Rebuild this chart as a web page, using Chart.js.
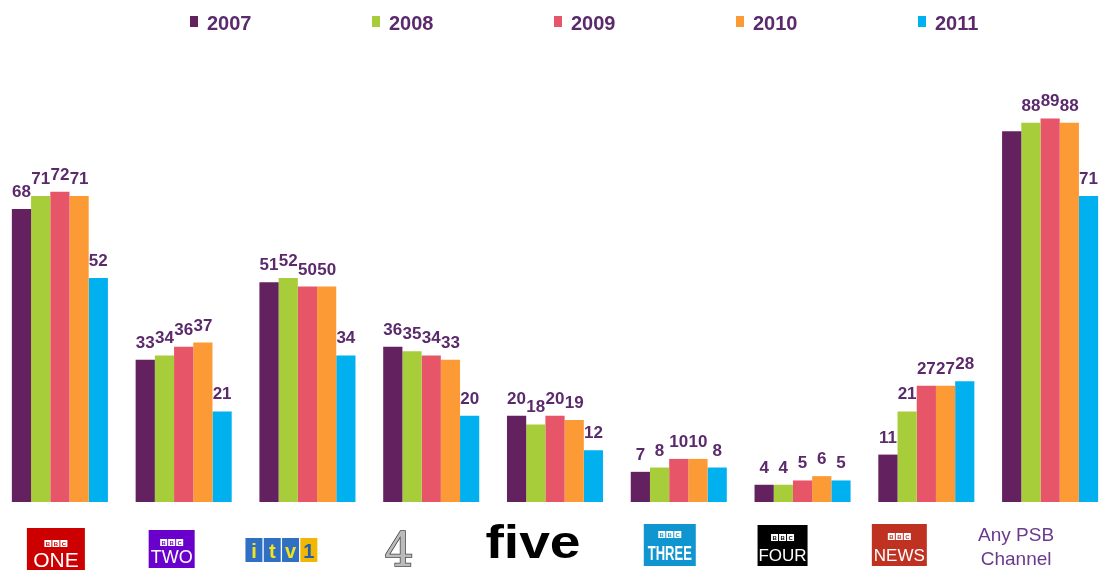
<!DOCTYPE html>
<html>
<head>
<meta charset="utf-8">
<script src="https://cdn.jsdelivr.net/npm/chart.js@4.4.0/dist/chart.umd.min.js"></script>
<style>
    html, body { margin: 0; padding: 0; background: #fff; overflow: hidden; }
    #wrap { position: absolute; left: -2px; top: 0; width: 1114px; height: 570px; }
</style>
</head>
<body>
<div id="wrap"><canvas id="myChart"></canvas></div>
<script>
// dados
const canais = ['BBC ONE', 'BBC TWO', 'ITV1', 'Channel 4', 'five', 'BBC THREE', 'BBC FOUR', 'BBC NEWS', 'Any PSB Channel'];
const anos = ['2007', '2008', '2009', '2010', '2011'];
const v2007 = [68, 33, 51, 36, 20, 7, 4, 11, 86];
const v2008 = [71, 34, 52, 35, 18, 8, 4, 21, 88];
const v2009 = [72, 36, 50, 34, 20, 10, 5, 27, 89];
const v2010 = [71, 37, 50, 33, 19, 10, 6, 27, 88];
const v2011 = [52, 21, 34, 20, 12, 8, 5, 28, 71];

const cores = ['#63225f', '#a8cd3a', '#e65668', '#fc9a36', '#00b0ef'];
const roxo = '#5b2a6c';

// rotulos de valor em cima das barras
const rotulos = {
    id: 'rotulos',
    afterDatasetsDraw(chart) {
        const ctx = chart.ctx;
        ctx.save();
        ctx.font = 'bold 17px "Liberation Sans", Arial, sans-serif';
        ctx.fillStyle = roxo;
        ctx.textAlign = 'center';
        ctx.textBaseline = 'alphabetic';
        chart.data.datasets.forEach((ds, i) => {
            chart.getDatasetMeta(i).data.forEach((bar, j) => {
                if (i === 0 && j === 8) return; // sem rotulo no original
                ctx.fillText(ds.data[j], bar.x, bar.y - 12);
            });
        });
        ctx.restore();
    }
};

// legenda no topo
const legenda = {
    id: 'legenda',
    afterDraw(chart) {
        const ctx = chart.ctx;
        ctx.save();
        ctx.font = 'bold 20px "Liberation Sans", Arial, sans-serif';
        ctx.textBaseline = 'alphabetic';
        chart.data.datasets.forEach((ds, i) => {
            const x = 192 + i * 182;
            ctx.fillStyle = ds.backgroundColor;
            ctx.fillRect(x, 16, 8, 11);
            ctx.fillStyle = roxo;
            ctx.fillText(ds.label, x + 17, 30);
        });
        ctx.restore();
    }
};

function blocosBBC(ctx, cx, y, cor) {
    ctx.font = 'bold 6px "Liberation Sans", Arial, sans-serif';
    ctx.textAlign = 'center';
    ctx.textBaseline = 'middle';
    ['B', 'B', 'C'].forEach((l, k) => {
        const x = cx - 8 + k * 8;
        ctx.fillStyle = '#fff';
        ctx.fillRect(x - 3.5, y, 7, 7);
        ctx.fillStyle = cor;
        ctx.fillText(l, x, y + 4);
    });
}

function caixaBBC(ctx, cx, y0, w, h, cor, nome, tam, yBlocos, yNome, esc) {
    ctx.fillStyle = cor;
    ctx.fillRect(cx - w / 2, y0, w, h);
    blocosBBC(ctx, cx, yBlocos, cor);
    ctx.save();
    ctx.translate(cx, yNome);
    ctx.scale(esc || 1, 1);
    ctx.fillStyle = '#fff';
    ctx.font = tam + 'px "Liberation Sans", Arial, sans-serif';
    ctx.textAlign = 'center';
    ctx.textBaseline = 'alphabetic';
    ctx.fillText(nome, 0, 0);
    ctx.restore();
}

// logos dos canais no eixo x
const desvios = [-4, -12, -26, -32, -22, -9, -20, -27, -34];
const logos = {
    id: 'logos',
    afterDraw(chart) {
        const ctx = chart.ctx;
        const xs = chart.scales.x;
        ctx.save();
        canais.forEach((nome, i) => {
            const cx = xs.getPixelForValue(i) + desvios[i];
            if (i === 0) caixaBBC(ctx, cx, 528, 58, 50, '#cc0000', 'ONE', 21, 540, 567);
            if (i === 1) caixaBBC(ctx, cx, 530, 46, 38, '#6a00cc', 'TWO', 18, 539, 563);
            if (i === 5) caixaBBC(ctx, cx, 524, 52, 42, '#0f95cf', 'THREE', '900 21', 531, 560, 0.62);
            if (i === 6) caixaBBC(ctx, cx, 525, 50, 41, '#000000', 'FOUR', 17, 534, 561);
            if (i === 7) caixaBBC(ctx, cx, 524, 55, 42, '#bf3120', 'NEWS', 17, 533, 561);
            if (i === 2) {
                const letras = ['i', 't', 'v', '1'];
                letras.forEach((l, k) => {
                    const x = cx - 36 + k * 18.3;
                    ctx.fillStyle = k < 3 ? '#2f70c4' : '#f2b705';
                    ctx.fillRect(x, 538, 17, 24);
                    ctx.fillStyle = k < 3 ? '#f4e21a' : '#1f5fb0';
                    ctx.font = 'bold 20px "Liberation Sans", Arial, sans-serif';
                    ctx.textAlign = 'center';
                    ctx.textBaseline = 'alphabetic';
                    ctx.fillText(l, x + 8.5, 558);
                });
            }
            if (i === 3) {
                ctx.font = '46px "DejaVu Serif", serif';
                ctx.textAlign = 'center';
                ctx.textBaseline = 'alphabetic';
                ctx.strokeStyle = '#444';
                ctx.lineWidth = 1.5;
                ctx.strokeText('4', cx, 566);
                ctx.fillStyle = '#bbb';
                ctx.fillText('4', cx, 566);
            }
            if (i === 4) {
                ctx.save();
                ctx.translate(cx, 558);
                ctx.scale(1.2, 1);
                ctx.font = 'bold 46px "Liberation Sans", Arial, sans-serif';
                ctx.textAlign = 'center';
                ctx.textBaseline = 'alphabetic';
                ctx.fillStyle = '#000';
                ctx.fillText('five', 0, 0);
                ctx.restore();
            }
            if (i === 8) {
                ctx.font = '19px "Liberation Sans", Arial, sans-serif';
                ctx.textAlign = 'center';
                ctx.textBaseline = 'alphabetic';
                ctx.fillStyle = '#6a3a8e';
                ctx.fillText('Any PSB', cx, 541);
                ctx.fillText('Channel', cx, 565);
            }
        });
        ctx.restore();
    }
};

const grafico = document.getElementById('myChart');

new Chart(grafico, {
    type: 'bar',
    data: {
        labels: canais,
        datasets: [
            { label: anos[0], data: v2007, backgroundColor: cores[0] },
            { label: anos[1], data: v2008, backgroundColor: cores[1] },
            { label: anos[2], data: v2009, backgroundColor: cores[2] },
            { label: anos[3], data: v2010, backgroundColor: cores[3] },
            { label: anos[4], data: v2011, backgroundColor: cores[4] }
        ]
    },
    options: {
        responsive: true,
        maintainAspectRatio: false,
        animation: false,
        layout: { padding: { top: 71, bottom: 68, left: 0, right: 0 } },
        datasets: {
            bar: { categoryPercentage: 0.776, barPercentage: 1.0, borderWidth: 0 }
        },
        plugins: {
            legend: { display: false },
            tooltip: { enabled: false }
        },
        scales: {
            x: {
                display: false,
                grid: { display: false }
            },
            y: {
                display: false,
                min: 0,
                max: 100
            }
        }
    },
    plugins: [rotulos, legenda, logos]
});
</script>
</body>
</html>
